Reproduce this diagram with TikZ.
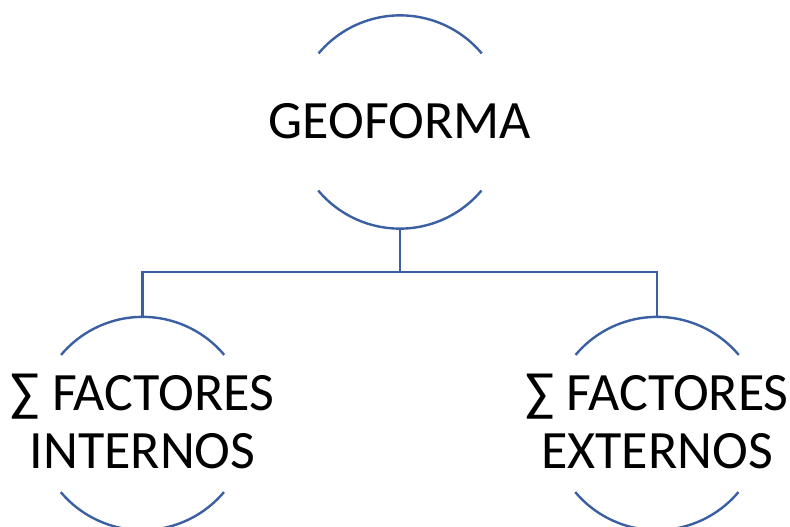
\documentclass[tikz,border=0pt]{standalone}
\usepackage{fontspec}
\setmainfont{Carlito}
\definecolor{linkblue}{HTML}{3B5FA3}
\begin{document}
\begin{tikzpicture}[x=1pt,y=-1pt,
  arcline/.style={draw=linkblue,line width=2.4pt},
  lbl/.style={inner sep=0pt,font=\fontsize{54}{60}\selectfont,text=black},
  hub/.style={circle,minimum size=213pt,inner sep=0pt}]
\useasboundingbox (0,0) rectangle (790,527);
% circle holders
\node[hub] (geo) at (400,122) {};
\node[hub] (int) at (142.5,423.5) {};
\node[hub] (ext) at (657,423.5) {};
% arcs (top and bottom parts of each circle)
\foreach \c in {geo,int,ext}{
  \draw[arcline] (\c.40) arc[start angle=-40,end angle=-140,radius=106.5];
  \draw[arcline] (\c.-140) arc[start angle=140,end angle=40,radius=106.5];
}
% labels
\node[lbl,anchor=base] (geot) at (400,138) {GEOFORMA};
\node[lbl,anchor=base] (int1) at (142.5,410) {∑ FACTORES};
\node[lbl,anchor=base] (int2) at (142.5,468) {INTERNOS};
\node[lbl,anchor=base] (ext1) at (657,410) {∑ FACTORES};
\node[lbl,anchor=base] (ext2) at (657,468) {EXTERNOS};
% connectors
\coordinate (mid) at (400,272);
\draw[arcline] (geo.south) -- (mid);
\draw[arcline] (int.north) |- (mid) -| (ext.north);
\end{tikzpicture}
\end{document}
